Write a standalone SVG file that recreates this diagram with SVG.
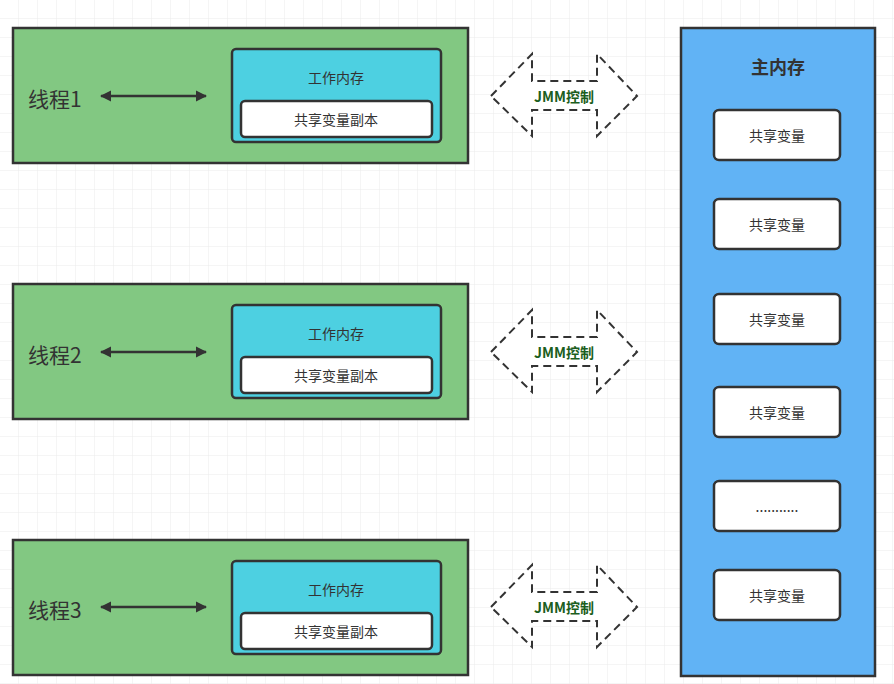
<svg xmlns="http://www.w3.org/2000/svg" width="894" height="684" viewBox="0 0 894 684">
<defs>
<pattern id="g" width="19" height="19" patternUnits="userSpaceOnUse"><path d="M19 0V19H0" fill="none" stroke="#ebebeb" stroke-width="1"/></pattern>
<marker id="ah" viewBox="0 0 10 10" refX="9" refY="5" markerWidth="4.5" markerHeight="4.5" orient="auto-start-reverse"><path d="M0 0L10 5L0 10Z" fill="#333"/></marker>
<path id="jmm" d="M491 96L532 54V81H597V54L637 96L597 136V110H532V136Z"/>
</defs>
<style>
text{font-family:"Noto Sans CJK SC","Liberation Sans",sans-serif;text-anchor:middle;dominant-baseline:central;fill:#333}
.th{fill:#82c882;stroke:#333;stroke-width:2.5}
.wm{fill:#4dd0e1;stroke:#333;stroke-width:2.5}
.wb{fill:#fff;stroke:#333;stroke-width:2.5}
.big{font-size:21px;text-anchor:start}
.s{font-size:14px}
.j{fill:#fff;stroke:#333;stroke-width:2;stroke-dasharray:8 5}
.jt{font-size:14px;font-weight:bold;fill:#1b5e20}
</style>
<rect width="894" height="684" fill="#fff"/>
<rect width="894" height="684" fill="url(#g)"/>
<g id="thread1"><rect class="th" x="13" y="28" width="455" height="135"/><text class="big" x="28" y="98">线程1</text>
<rect class="wm" x="232" y="49" width="209" height="93" rx="4"/><text class="s" x="336" y="77">工作内存</text>
<rect class="wb" x="241" y="101" width="191" height="36" rx="4"/><text class="s" x="336" y="119">共享变量副本</text></g>
<g id="thread2"><rect class="th" x="13" y="284" width="455" height="135"/><text class="big" x="28" y="354">线程2</text>
<rect class="wm" x="232" y="305" width="209" height="93" rx="4"/><text class="s" x="336" y="333">工作内存</text>
<rect class="wb" x="241" y="357" width="191" height="36" rx="4"/><text class="s" x="336" y="375">共享变量副本</text></g>
<g id="thread3"><rect class="th" x="13" y="540" width="455" height="135"/><text class="big" x="28" y="609">线程3</text>
<rect class="wm" x="232" y="561" width="209" height="93" rx="4"/><text class="s" x="336" y="589">工作内存</text>
<rect class="wb" x="241" y="613" width="191" height="36" rx="4"/><text class="s" x="336" y="631">共享变量副本</text></g>
<g id="main"><rect x="681" y="28" width="194" height="648" fill="#61b3f5" stroke="#333" stroke-width="2.5"/>
<text x="778" y="66" font-size="18" font-weight="bold">主内存</text>
<g class="s">
<rect class="wb" x="714" y="110" width="126" height="50" rx="5"/><text class="s" x="777" y="135">共享变量</text>
<rect class="wb" x="714" y="199" width="126" height="50" rx="5"/><text class="s" x="777" y="224">共享变量</text>
<rect class="wb" x="714" y="294" width="126" height="50" rx="5"/><text class="s" x="777" y="319">共享变量</text>
<rect class="wb" x="714" y="387" width="126" height="50" rx="5"/><text class="s" x="777" y="412">共享变量</text>
<rect class="wb" x="714" y="481" width="126" height="50" rx="5"/><text class="s" x="777" y="506">...........</text>
<rect class="wb" x="714" y="570" width="126" height="50" rx="5"/><text class="s" x="777" y="595">共享变量</text>
</g></g>
<g id="connectors" stroke="#333" stroke-width="2.5" marker-start="url(#ah)" marker-end="url(#ah)">
<line x1="101" y1="96" x2="206" y2="96"/>
<line x1="101" y1="352" x2="206" y2="352"/>
<line x1="101" y1="607" x2="206" y2="607"/>
</g>
<g id="jmm1"><use href="#jmm" class="j"/><text class="jt" x="564" y="96">JMM控制</text></g>
<g id="jmm2" transform="translate(0,256)"><use href="#jmm" class="j"/><text class="jt" x="564" y="96">JMM控制</text></g>
<g id="jmm3" transform="translate(0,511)"><use href="#jmm" class="j"/><text class="jt" x="564" y="96">JMM控制</text></g>
</svg>
